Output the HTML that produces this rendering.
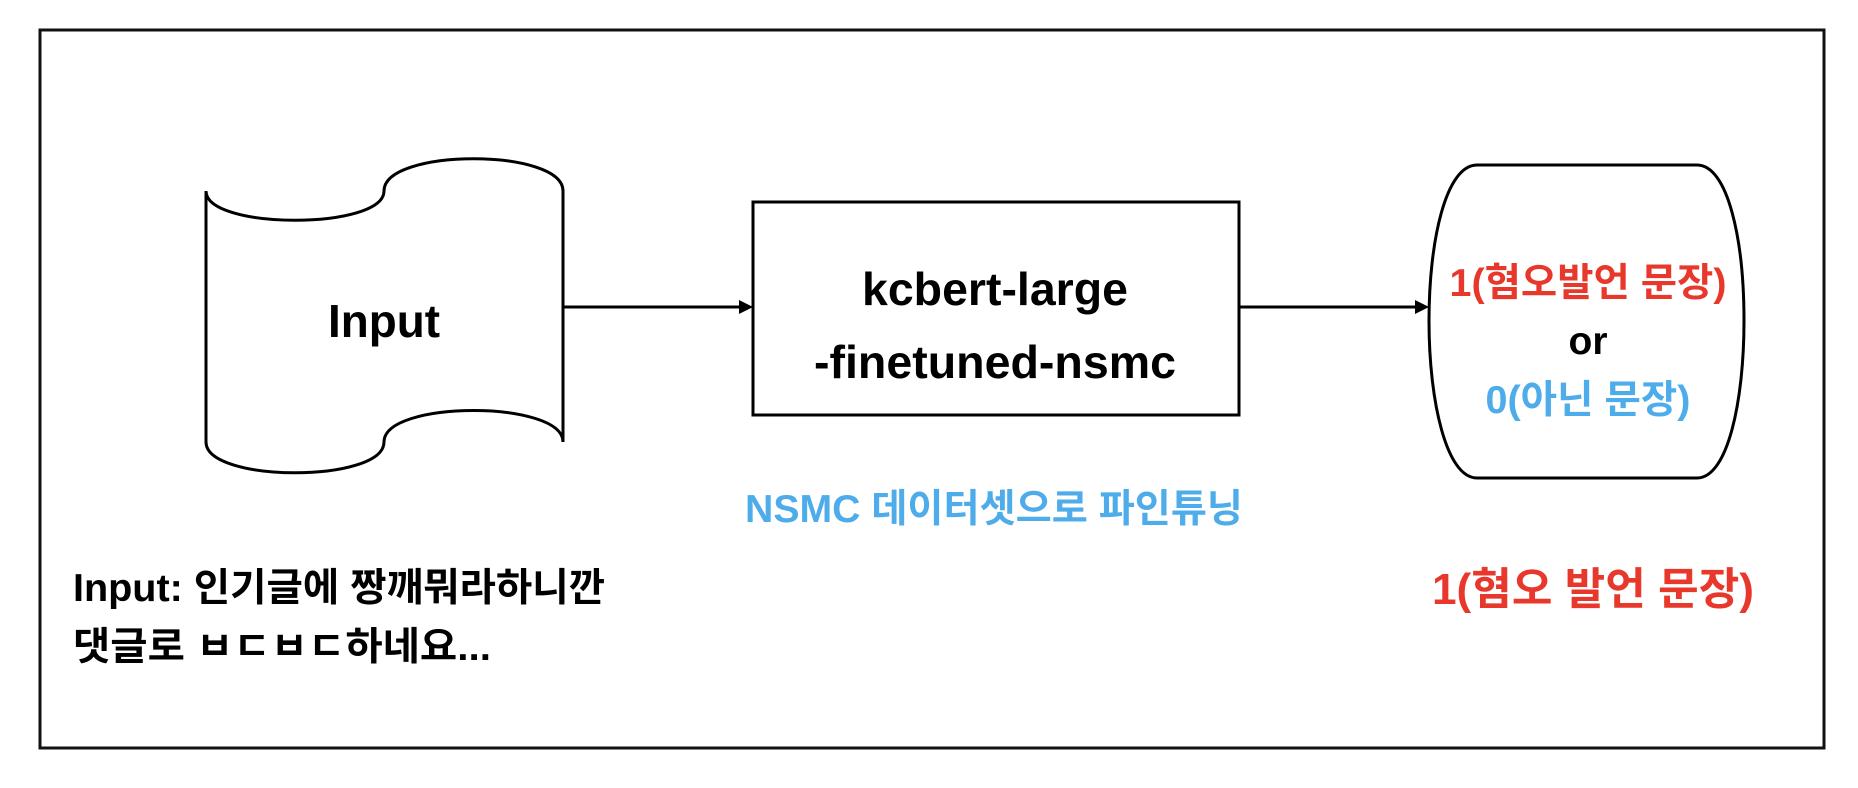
<!DOCTYPE html>
<html><head><meta charset="utf-8"><style>
html,body{margin:0;padding:0;background:#fff;width:1858px;height:788px;overflow:hidden}
text{font-family:"Liberation Sans","Noto Sans CJK KR",sans-serif;font-weight:bold}
</style></head><body>
<svg width="1858" height="788" viewBox="0 0 1858 788" xmlns="http://www.w3.org/2000/svg">
<rect x="40" y="30" width="1784" height="718" fill="#fff" stroke="#111" stroke-width="3"/>
<!-- input shape -->
<path d="M206,191 C206,230 384,230 384,191 C384,148 563,148 563,191 L563,442 C563,400 384,400 384,442 C384,483 206,483 206,442 Z" fill="#fff" stroke="#000" stroke-width="3"/>
<text x="384" y="337" font-size="46" text-anchor="middle" textLength="112" lengthAdjust="spacingAndGlyphs">Input</text>
<!-- arrow 1 -->
<line x1="563" y1="307" x2="740" y2="307" stroke="#000" stroke-width="3"/>
<polygon points="753,307 739,300 739,314" fill="#000"/>
<!-- box -->
<rect x="753" y="202" width="486" height="213" fill="#fff" stroke="#000" stroke-width="3"/>
<text x="995" y="305" font-size="46" text-anchor="middle" textLength="266" lengthAdjust="spacingAndGlyphs">kcbert-large</text>
<text x="995" y="378" font-size="46" text-anchor="middle" textLength="362" lengthAdjust="spacingAndGlyphs">-finetuned-nsmc</text>
<!-- arrow 2 -->
<line x1="1239" y1="307" x2="1416" y2="307" stroke="#000" stroke-width="3"/>
<polygon points="1429,307 1415,300 1415,314" fill="#000"/>
<!-- output shape -->
<path d="M1477,165 L1697,165 C1728,165 1744,240 1744,321 C1744,400 1728,478 1697,478 L1477,478 C1446,478 1429,400 1429,321 C1429,240 1446,165 1477,165 Z" fill="#fff" stroke="#000" stroke-width="3"/>
<text x="1588" y="296" font-size="39" text-anchor="middle" fill="#e8382b" textLength="277" lengthAdjust="spacingAndGlyphs">1(혐오발언 문장)</text>
<text x="1588" y="354" font-size="39" text-anchor="middle" fill="#000">or</text>
<text x="1588" y="413" font-size="39" text-anchor="middle" fill="#4facea" textLength="205" lengthAdjust="spacingAndGlyphs">0(아닌 문장)</text>
<text x="994" y="522" font-size="39" text-anchor="middle" fill="#4facea" textLength="498" lengthAdjust="spacingAndGlyphs">NSMC 데이터셋으로 파인튜닝</text>
<text x="73" y="601" font-size="39" textLength="532" lengthAdjust="spacingAndGlyphs">Input: 인기글에 짱깨뭐라하니깐</text>
<text x="73" y="660" font-size="39" textLength="418" lengthAdjust="spacingAndGlyphs">댓글로 ㅂㄷㅂㄷ하네요...</text>
<text x="1593" y="604" font-size="44" text-anchor="middle" fill="#e8382b" textLength="322" lengthAdjust="spacingAndGlyphs">1(혐오 발언 문장)</text>
</svg>
</body></html>
